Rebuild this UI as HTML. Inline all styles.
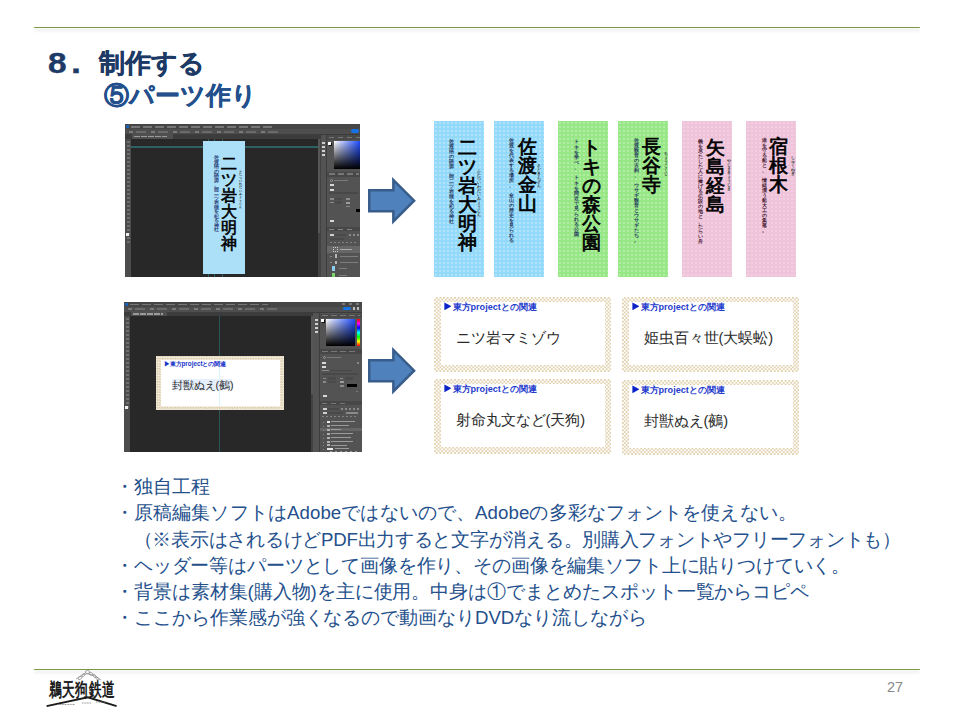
<!DOCTYPE html>
<html lang="ja"><head><meta charset="utf-8">
<style>
html,body{margin:0;padding:0;background:#fff;}
body{width:960px;height:720px;position:relative;overflow:hidden;font-family:"Liberation Sans",sans-serif;}
.abs{position:absolute;}
.hline{position:absolute;left:34px;width:885.5px;height:1.6px;border-radius:1px;background:#7a9944;box-shadow:0 2.5px 3px rgba(0,0,0,0.16);}
.title{position:absolute;color:#1f3b6b;font-weight:bold;font-size:26px;line-height:30px;white-space:nowrap;-webkit-text-stroke:0.35px currentColor;}
.bul{position:absolute;left:115px;top:474px;color:#24508c;font-size:18.67px;line-height:26.3px;white-space:pre;}
.pnum{position:absolute;left:887px;top:678.7px;color:#888;font-size:14.5px;}
/* photoshop */
.ps{position:absolute;background:#535353;overflow:hidden;}
.ps .menu{position:absolute;left:0;top:0;right:0;background:#3c3c3c;}
.ps .canvas{position:absolute;background:#282828;}
.arrow{position:absolute;}
/* vertical cards */
.vc{position:absolute;top:121px;width:50px;height:156px;}
.blue{background-color:#93dafa;background-image:radial-gradient(circle,rgba(255,255,255,.28) 0.8px,transparent 1.3px);background-size:4px 4px;}
.green{background-color:#97e787;background-image:radial-gradient(circle,rgba(255,255,255,.25) 0.8px,transparent 1.3px);background-size:4px 4px;}
.pink{background-color:#efc4da;background-image:radial-gradient(circle,rgba(255,255,255,.18) 0.8px,transparent 1.3px);background-size:4px 4px;}
.vt{position:absolute;width:1em;word-break:break-all;line-break:anywhere;white-space:break-spaces;text-align:center;}
.big{font-size:18.6px;line-height:19px;color:#000;-webkit-text-stroke:0.75px #000;}
.sm{font-size:5.2px;line-height:5px;color:#333;font-weight:bold;}
.ru{font-size:3.6px;line-height:4px;color:#333;font-weight:bold;}
/* touhou cards */
.tc{position:absolute;width:177px;height:75px;background:conic-gradient(#e2d2b0 25%,#fff 0 50%,#e2d2b0 0 75%,#fff 0) 0 0/3.66px 3.66px;}
.tc .in{position:absolute;left:7px;top:5px;right:6px;bottom:7px;background:#fff;}
.tc .hd{position:absolute;left:9px;top:5px;font-size:9.1px;line-height:10px;color:#1a35c8;font-weight:bold;white-space:nowrap;}
.tc .tri{position:absolute;left:10.4px;top:5.4px;width:7.1px;height:7.9px;background:#0a22c8;clip-path:polygon(0 0,100% 50%,0 100%);}
.tc .hd2{position:absolute;left:18.5px;top:5px;font-size:9.1px;line-height:10px;color:#1f3ccc;font-weight:bold;white-space:nowrap;}
.tc .nm{position:absolute;left:21.5px;top:31.5px;font-size:14.6px;line-height:18px;color:#2a2a2a;white-space:nowrap;}
</style></head>
<body>
<div class="hline" style="top:26.7px"></div>
<div class="title" style="left:48px;top:48px;font-size:29px;color:#1d3a66;transform:scaleX(1.15);transform-origin:0 0">8</div>
<div class="title" style="left:71px;top:48px;font-size:30px;color:#1d3a66;transform:scaleX(1.2);transform-origin:0 0">.</div>
<div class="title" style="left:99px;top:48px;font-size:26px;color:#1d3a66">制作する</div>
<div class="title" style="left:104px;top:81px;font-size:24.8px;color:#23508c">⑤パーツ作り</div>

<!-- PS screenshot 1 -->
<div class="ps" style="left:125px;top:124px;width:235px;height:153px">
  <div class="abs" style="left:0;top:0;width:235px;height:5px;background:#464646"></div>
  <div class="abs" style="left:1px;top:1px;width:2.5px;height:2.5px;background:#1d5fb0"></div>
  <div class="abs dl" style="left:6px;top:2px;width:142px;height:1.6px;background:repeating-linear-gradient(to right,#767676 0 9px,transparent 9px 12px)"></div>
  <div class="abs" style="left:0;top:5px;width:235px;height:5px;background:#4e4e4e"></div>
  <div class="abs" style="left:4px;top:6.5px;width:150px;height:2px;background:repeating-linear-gradient(to right,#7a7a7a 0 4px,transparent 4px 7px,#6a6a6a 7px 17px,transparent 17px 22px)"></div>
  <div class="abs" style="left:225.5px;top:5.4px;width:8.5px;height:3.4px;background:#1473e6;border-radius:2px"></div>
  <div class="abs" style="left:0;top:10px;width:235px;height:5px;background:#3c3c3c"></div>
  <div class="abs" style="left:6.5px;top:10px;width:41px;height:5px;background:#4f4f4f"></div>
  <div class="abs" style="left:9px;top:11.8px;width:33px;height:1.6px;background:repeating-linear-gradient(to right,#9a9a9a 0 6px,transparent 6px 7px)"></div>
  <div class="abs" style="left:0;top:15px;width:6px;height:138px;background:#4c4c4c"></div>
  <div class="abs" style="left:1.5px;top:17px;width:3px;height:104px;background:repeating-linear-gradient(to bottom,#6e6e6e 0 2px,transparent 2px 4px)"></div>
  <div class="abs" style="left:1px;top:109px;width:3px;height:3px;background:#eee"></div>
  <div class="canvas" style="left:6px;top:15px;width:186.6px;height:138px"></div>
  <div class="abs" style="left:6px;top:22.2px;width:186.6px;height:1.5px;background:#2e6163"></div>
  <div class="abs" style="left:82.5px;top:15px;width:1px;height:138px;background:#2e6163"></div>
  <div class="abs" style="left:88.6px;top:15px;width:1px;height:138px;background:#2e6163"></div>
  <div class="abs" style="left:97.4px;top:15px;width:1px;height:138px;background:#2e6163"></div>
  <div class="abs" style="left:78px;top:17px;width:42px;height:133px;background-color:#ace0f8"></div>
  <div class="vt" style="left:96px;top:32px;font-size:16px;line-height:16px;color:#000;-webkit-text-stroke:0.6px #000">二ツ岩大明神</div>
  <div class="vt" style="left:89px;top:32px;font-size:4.5px;line-height:4.5px;color:#1d3670;font-weight:bold">佐渡狢の語源、同二ツ岩狸を祀る神社</div>
  <div class="vt" style="left:114.3px;top:46px;font-size:3px;line-height:3.3px;color:#222;font-weight:bold">ふたついわだいみょうじん</div>
  <div class="abs" style="left:192.6px;top:15px;width:3px;height:138px;background:#424242"></div>
  <div class="abs" style="left:193px;top:15px;width:2px;height:94px;background:#575757"></div>
  <div class="abs" style="left:195.6px;top:11px;width:5.5px;height:142px;background:#535353"></div>
  <div class="abs" style="left:197px;top:18px;width:3px;height:14px;background:repeating-linear-gradient(to bottom,#cfcfcf 0 2px,transparent 2px 4px)"></div>
  <div class="abs" style="left:201px;top:11px;width:1px;height:142px;background:#3d3d3d"></div>
  <div class="abs" style="left:202px;top:11px;width:33px;height:142px;background:#535353"></div>
  <div class="abs" style="left:202px;top:11px;width:33px;height:5px;background:#494949"></div>
  <div class="abs" style="left:204px;top:12.5px;width:31px;height:1.5px;background:repeating-linear-gradient(to right,#777 0 5px,transparent 5px 9px)"></div>
  <div class="abs" style="left:203px;top:17.5px;width:3px;height:3px;background:#fff;box-shadow:1px 1px 0 #111"></div>
  <div class="abs" style="left:209px;top:17px;width:26px;height:28px;background:linear-gradient(to bottom,rgba(0,0,0,0),#000),linear-gradient(to right,#fff,#1f4cff)"></div>
  <div class="abs" style="left:202px;top:47.7px;width:33px;height:5px;background:#474747"></div>
  <div class="abs" style="left:204px;top:49.3px;width:30px;height:1.3px;background:repeating-linear-gradient(to right,#777 0 6px,transparent 6px 9px)"></div>
  <div class="abs" style="left:204.5px;top:55px;width:3px;height:3px;border-radius:50%;border:0.6px solid #999;box-sizing:border-box"></div>
  <div class="abs" style="left:209px;top:56px;width:14px;height:1.2px;background:#7a7a7a"></div>
  <div class="abs" style="left:205px;top:59.5px;width:4px;height:2px;background:#d8d8d8"></div>
  <div class="abs" style="left:205px;top:64.5px;width:4px;height:2px;background:#d8d8d8"></div>
  <div class="abs" style="left:204px;top:68px;width:29px;height:1.8px;background:#484848"></div>
  <div class="abs" style="left:205px;top:74px;width:4px;height:1.5px;background:#8a8a8a"></div>
  <div class="abs" style="left:210px;top:73.5px;width:7px;height:2.5px;background:#4a4a4a"></div>
  <div class="abs" style="left:221px;top:74px;width:4px;height:1.5px;background:#8a8a8a"></div>
  <div class="abs" style="left:205px;top:77.5px;width:4px;height:1.5px;background:#8a8a8a"></div>
  <div class="abs" style="left:210px;top:77px;width:7px;height:2.5px;background:#4a4a4a"></div>
  <div class="abs" style="left:221px;top:77.5px;width:4px;height:2px;background:#9a9a9a"></div>
  <div class="abs" style="left:221px;top:81.5px;width:4px;height:1.5px;background:#8a8a8a"></div>
  <div class="abs" style="left:230.5px;top:85px;width:4.5px;height:2.5px;background:#000"></div>
  <div class="abs" style="left:205px;top:95.8px;width:4px;height:2px;background:#d8d8d8"></div>
  <div class="abs" style="left:202px;top:103px;width:33px;height:4px;background:#474747"></div>
  <div class="abs" style="left:204px;top:104.5px;width:26px;height:1.2px;background:repeating-linear-gradient(to right,#858585 0 5px,transparent 5px 9px)"></div>
  <div class="abs" style="left:205px;top:110px;width:4px;height:1.5px;background:#cfcfcf"></div>
  <div class="abs" style="left:210px;top:109.5px;width:11px;height:2.5px;background:#4a4a4a"></div>
  <div class="abs" style="left:224px;top:110px;width:10px;height:1.5px;background:repeating-linear-gradient(to right,#8a8a8a 0 2px,transparent 2px 4px)"></div>
  <div class="abs" style="left:205px;top:113.5px;width:14px;height:2.5px;background:#4a4a4a"></div>
  <div class="abs" style="left:205px;top:117.5px;width:28px;height:1.3px;background:repeating-linear-gradient(to right,#828282 0 2px,transparent 2px 4px)"></div>
  <div class="abs" style="left:202px;top:122px;width:33px;height:6.8px;background:#676767"></div>
  <div class="abs" style="left:208px;top:123px;width:5px;height:5px;border:0.7px dotted #cfcfcf;box-sizing:border-box"></div>
  <div class="abs" style="left:215px;top:125px;width:12px;height:1.3px;background:#a8a8a8"></div>
  <div class="abs" style="left:205px;top:131.5px;width:1.5px;height:1.2px;background:#8a8a8a"></div>
  <div class="abs" style="left:209.5px;top:130px;width:2.5px;height:3.5px;background:#b5b5b5"></div>
  <div class="abs" style="left:215px;top:131.5px;width:18px;height:1.2px;background:#7d7d7d"></div>
  <div class="abs" style="left:205px;top:138px;width:1.5px;height:1.2px;background:#8a8a8a"></div>
  <div class="abs" style="left:209.5px;top:136.5px;width:2.5px;height:3.5px;background:#b5b5b5"></div>
  <div class="abs" style="left:215px;top:138px;width:18px;height:1.2px;background:#7d7d7d"></div>
  <div class="abs" style="left:207px;top:142px;width:3px;height:5px;background:#8ecdf0"></div>
  <div class="abs" style="left:214px;top:144px;width:8px;height:1.2px;background:#7d7d7d"></div>
  <div class="abs" style="left:207px;top:149px;width:3px;height:4px;background:#7bd46a"></div>
  <div class="abs" style="left:214px;top:151px;width:8px;height:1.2px;background:#7d7d7d"></div>
</div>
<svg class="arrow" style="left:366px;top:175px" width="52" height="52" viewBox="0 0 52 52">
  <path d="M3.25 15.25 H27.35 V4.9 L48.1 25.7 L27.35 46.4 V36.15 H3.25 Z" fill="#4f81bd" stroke="#385d8a" stroke-width="2.5"/>
</svg>

<!-- six vertical cards -->
<div class="vc blue" style="left:434px"></div>
<div class="vt big" style="left:457.5px;top:138.4px">二ツ岩大明神</div>
<div class="vt sm" style="left:449.0px;top:139.4px;color:#25365e">佐渡狢の語源、同二ツ岩狸を祀る神社</div>
<div class="vt ru" style="left:476.5px;top:169.3px">ふたついわだいみょうじん</div>
<div class="vc blue" style="left:494px"></div>
<div class="vt big" style="left:517.6px;top:136.8px">佐渡金山</div>
<div class="vt sm" style="left:509.1px;top:137.8px;color:#25365e">佐渡を代表する場所、　金山の歴史を見られる</div>
<div class="vt ru" style="left:536.5px;top:164.0px">さどきんざん</div>
<div class="vc green" style="left:558px"></div>
<div class="vt big" style="left:581.5px;top:138.4px">トキの森公園</div>
<div class="vt sm" style="left:573.5px;top:139.4px;color:#1f3a5c;line-height:5.15px">トキを学べ、　トキを間近で見られる公園</div>
<div class="vc green" style="left:618px"></div>
<div class="vt big" style="left:641.6px;top:137.2px">長谷寺</div>
<div class="vt sm" style="left:633.7px;top:138.2px;color:#1f3a5c">佐渡観音の古刹、　ウサギ観音とウサギたち。</div>
<div class="vt ru" style="left:663.5px;top:151.7px">ちょうこくじ</div>
<div class="vc pink" style="left:682px"></div>
<div class="vt big" style="left:705.6px;top:137.7px">矢島経島</div>
<div class="vt sm" style="left:698.0px;top:138.7px;color:#4a2035">義を尽たした人に捧げる伝説の地と、たらい舟</div>
<div class="vt ru" style="left:726.5px;top:158.5px">やじまきょうじま</div>
<div class="vc pink" style="left:746px"></div>
<div class="vt big" style="left:769.0px;top:137.3px">宿根木</div>
<div class="vt sm" style="left:761.7px;top:138.3px;color:#4a2035">港を守る船と、　情緒漂う船大工の集落。</div>
<div class="vt ru" style="left:790.5px;top:156.3px">しゅくねぎ</div>

<!-- PS screenshot 2 -->
<div class="ps" style="left:124px;top:302px;width:238px;height:150px">
  <div class="abs" style="left:0;top:0;width:238px;height:4.5px;background:#464646"></div>
  <div class="abs" style="left:1px;top:1px;width:2.5px;height:2.5px;background:#1d5fb0"></div>
  <div class="abs" style="left:6px;top:1.6px;width:138px;height:1.6px;background:repeating-linear-gradient(to right,#767676 0 9px,transparent 9px 12px)"></div>
  <div class="abs" style="left:218px;top:1px;width:18px;height:2px;background:repeating-linear-gradient(to right,#777 0 3px,transparent 3px 7px)"></div>
  <div class="abs" style="left:0;top:4.5px;width:238px;height:5px;background:#4e4e4e"></div>
  <div class="abs" style="left:4px;top:6px;width:150px;height:2px;background:repeating-linear-gradient(to right,#7a7a7a 0 4px,transparent 4px 7px,#6a6a6a 7px 17px,transparent 17px 22px)"></div>
  <div class="abs" style="left:218.8px;top:4.9px;width:7.8px;height:3.5px;background:#1473e6;border-radius:2px"></div>
  <div class="abs" style="left:229px;top:5px;width:7px;height:3px;background:repeating-linear-gradient(to right,#bbb 0 2px,transparent 2px 4px)"></div>
  <div class="abs" style="left:0;top:9.5px;width:238px;height:4.5px;background:#3c3c3c"></div>
  <div class="abs" style="left:6.6px;top:9.5px;width:36.5px;height:4.5px;background:#4f4f4f"></div>
  <div class="abs" style="left:9px;top:11px;width:30px;height:1.5px;background:repeating-linear-gradient(to right,#9a9a9a 0 6px,transparent 6px 7px)"></div>
  <div class="abs" style="left:0;top:14px;width:6px;height:136px;background:#4c4c4c"></div>
  <div class="abs" style="left:1.5px;top:16px;width:3px;height:92px;background:repeating-linear-gradient(to bottom,#6e6e6e 0 2px,transparent 2px 4px)"></div>
  <div class="abs" style="left:1px;top:104px;width:3px;height:3px;background:#eee"></div>
  <div class="canvas" style="left:6px;top:14px;width:180.5px;height:136px"></div>
  <div class="abs" style="left:95.2px;top:14px;width:1px;height:136px;background:#2b5557"></div>
  <div class="tc" style="left:32px;top:54px;width:128px;height:54px;background:conic-gradient(#dccaa6 25%,#f4efe4 0 50%,#dccaa6 0 75%,#f4efe4 0) 0 0/2.6px 2.6px"><div class="in" style="left:4.5px;top:4px;right:4.2px;bottom:4.4px"></div>
    <div class="abs" style="left:63.2px;top:4px;width:1px;height:46px;background:#d8f4f4"></div>
    <div class="hd" style="left:7.5px;top:4.4px;font-size:6.3px;line-height:7px">▶東方projectとの関連</div>
    <div class="abs" style="left:16px;top:23px;width:60px;height:11px;background:#e6effc"></div>
    <div class="nm" style="left:15.5px;top:22.5px;font-size:10.7px;line-height:12px">封獣ぬえ(鵺)</div>
  </div>
  <div class="abs" style="left:186.5px;top:14px;width:2.6px;height:136px;background:#424242"></div>
  <div class="abs" style="left:186.9px;top:14px;width:1.8px;height:78px;background:#575757"></div>
  <div class="abs" style="left:189.1px;top:11px;width:6px;height:139px;background:#535353"></div>
  <div class="abs" style="left:190.6px;top:17px;width:3px;height:14px;background:repeating-linear-gradient(to bottom,#cfcfcf 0 2px,transparent 2px 4px)"></div>
  <div class="abs" style="left:195.1px;top:11px;width:1px;height:139px;background:#3d3d3d"></div>
  <div class="abs" style="left:196px;top:11px;width:42px;height:139px;background:#535353"></div>
  <div class="abs" style="left:196px;top:11.5px;width:42px;height:4px;background:#494949"></div>
  <div class="abs" style="left:198px;top:12.6px;width:38px;height:1.5px;background:repeating-linear-gradient(to right,#777 0 6px,transparent 6px 9px)"></div>
  <div class="abs" style="left:197px;top:17px;width:3px;height:3px;background:#fff;box-shadow:1px 1px 0 #111"></div>
  <div class="abs" style="left:202px;top:16.6px;width:29px;height:27.2px;background:linear-gradient(to bottom,rgba(0,0,0,0),#000),linear-gradient(to right,#fff,#1f4cff)"></div>
  <div class="abs" style="left:232.7px;top:16.6px;width:3.6px;height:27.2px;background:linear-gradient(to bottom,#f00,#f0f 17%,#00f 33%,#0ff 50%,#0f0 67%,#ff0 83%,#f00)"></div>
  <div class="abs" style="left:196px;top:47px;width:42px;height:4.6px;background:#474747"></div>
  <div class="abs" style="left:198px;top:48.5px;width:36px;height:1.5px;background:repeating-linear-gradient(to right,#777 0 6px,transparent 6px 9px)"></div>
  <div class="abs" style="left:198.5px;top:54px;width:3px;height:3px;border-radius:50%;border:0.6px solid #999;box-sizing:border-box"></div>
  <div class="abs" style="left:203px;top:55px;width:14px;height:1.2px;background:#7a7a7a"></div>
  <div class="abs" style="left:198px;top:59.5px;width:4px;height:2px;background:#d8d8d8"></div>
  <div class="abs" style="left:233px;top:59.5px;width:2px;height:2px;background:#8a8a8a"></div>
  <div class="abs" style="left:198px;top:64px;width:4px;height:2px;background:#d8d8d8"></div>
  <div class="abs" style="left:198px;top:67.5px;width:7px;height:1.3px;background:#8a8a8a"></div>
  <div class="abs" style="left:206px;top:67.5px;width:22px;height:1.5px;background:#474747"></div>
  <div class="abs" style="left:198px;top:71px;width:36px;height:2px;background:#484848"></div>
  <div class="abs" style="left:199px;top:75.5px;width:3px;height:1.5px;background:#8a8a8a"></div>
  <div class="abs" style="left:204px;top:75px;width:8px;height:2.5px;background:#4a4a4a"></div>
  <div class="abs" style="left:216px;top:75.5px;width:3px;height:1.5px;background:#8a8a8a"></div>
  <div class="abs" style="left:221px;top:75px;width:8px;height:2.5px;background:#4a4a4a"></div>
  <div class="abs" style="left:199px;top:79px;width:3px;height:1.5px;background:#8a8a8a"></div>
  <div class="abs" style="left:204px;top:78.5px;width:8px;height:2.5px;background:#4a4a4a"></div>
  <div class="abs" style="left:216px;top:79px;width:4px;height:2px;background:#9a9a9a"></div>
  <div class="abs" style="left:216px;top:83px;width:4px;height:1.5px;background:#8a8a8a"></div>
  <div class="abs" style="left:232px;top:88.5px;width:2px;height:1.5px;background:#777"></div>
  <div class="abs" style="left:223.2px;top:82.4px;width:9.5px;height:2.6px;background:#000"></div>
  <div class="abs" style="left:198.5px;top:93px;width:4px;height:2px;background:#d8d8d8"></div>
  <div class="abs" style="left:196px;top:99px;width:42px;height:4px;background:#474747"></div>
  <div class="abs" style="left:198px;top:100.5px;width:26px;height:1.2px;background:repeating-linear-gradient(to right,#777 0 5px,transparent 5px 9px)"></div>
  <div class="abs" style="left:198.5px;top:106px;width:4px;height:1.5px;background:#cfcfcf"></div>
  <div class="abs" style="left:203px;top:105.5px;width:12px;height:2.5px;background:#4a4a4a"></div>
  <div class="abs" style="left:217px;top:106px;width:19px;height:1.5px;background:repeating-linear-gradient(to right,#8a8a8a 0 2px,transparent 2px 4px)"></div>
  <div class="abs" style="left:198.5px;top:110px;width:4px;height:1.5px;background:#cfcfcf"></div>
  <div class="abs" style="left:203px;top:109.5px;width:16px;height:2.5px;background:#4a4a4a"></div>
  <div class="abs" style="left:222px;top:110px;width:12px;height:1.5px;background:#8a8a8a"></div>
  <div class="abs" style="left:198px;top:113.5px;width:36px;height:1.3px;background:repeating-linear-gradient(to right,#828282 0 2px,transparent 2px 4px)"></div>
  <div class="abs" style="left:196px;top:125.8px;width:42px;height:2.8px;background:#666"></div>
  <div class="abs" style="left:198.5px;top:119.5px;width:1.8px;height:1px;background:#8a8a8a"></div>
  <div class="abs" style="left:203px;top:118.5px;width:3px;height:2.2px;background:#e8e8e8"></div>
  <div class="abs" style="left:207px;top:119px;width:24px;height:1.2px;background:#9a9a9a"></div>
  <div class="abs" style="left:198.5px;top:123.5px;width:1.8px;height:1px;background:#8a8a8a"></div>
  <div class="abs" style="left:203px;top:122.5px;width:3px;height:2.2px;background:#b0b0b0"></div>
  <div class="abs" style="left:207px;top:123px;width:18px;height:1.2px;background:#9a9a9a"></div>
  <div class="abs" style="left:198.5px;top:127.5px;width:1.8px;height:1px;background:#8a8a8a"></div>
  <div class="abs" style="left:203px;top:126.5px;width:3px;height:2.2px;background:#b0b0b0"></div>
  <div class="abs" style="left:207px;top:127px;width:10px;height:1.2px;background:#9a9a9a"></div>
  <div class="abs" style="left:198.5px;top:131.5px;width:1.8px;height:1px;background:#8a8a8a"></div>
  <div class="abs" style="left:203px;top:130.5px;width:3px;height:2.2px;background:#b0b0b0"></div>
  <div class="abs" style="left:207px;top:131px;width:22px;height:1.2px;background:#9a9a9a"></div>
  <div class="abs" style="left:198.5px;top:135.5px;width:1.8px;height:1px;background:#8a8a8a"></div>
  <div class="abs" style="left:203px;top:134.5px;width:3px;height:2.2px;background:#b0b0b0"></div>
  <div class="abs" style="left:207px;top:135px;width:20px;height:1.2px;background:#9a9a9a"></div>
  <div class="abs" style="left:198.5px;top:139.5px;width:1.8px;height:1px;background:#8a8a8a"></div>
  <div class="abs" style="left:203px;top:138.5px;width:3px;height:2.2px;background:#b0b0b0"></div>
  <div class="abs" style="left:207px;top:139px;width:22px;height:1.2px;background:#9a9a9a"></div>
  <div class="abs" style="left:198.5px;top:143.0px;width:1.8px;height:1px;background:#8a8a8a"></div>
  <div class="abs" style="left:203px;top:142.0px;width:3px;height:2.2px;background:#b0b0b0"></div>
  <div class="abs" style="left:207px;top:142.5px;width:16px;height:1.2px;background:#9a9a9a"></div>
  <div class="abs" style="left:198.5px;top:146.5px;width:1.8px;height:1px;background:#8a8a8a"></div>
  <div class="abs" style="left:203px;top:145.5px;width:6px;height:2.2px;background:#e8e8e8"></div>
  <div class="abs" style="left:211px;top:146px;width:14px;height:1.2px;background:#9a9a9a"></div>
  <div class="abs" style="left:206px;top:148.6px;width:28px;height:1.4px;background:repeating-linear-gradient(to right,#999 0 2px,transparent 2px 5px)"></div>
</div>
<svg class="arrow" style="left:366px;top:345.3px" width="52" height="52" viewBox="0 0 52 52">
  <path d="M3.25 15.25 H27.35 V4.9 L48.1 25.7 L27.35 46.4 V36.15 H3.25 Z" fill="#4f81bd" stroke="#385d8a" stroke-width="2.5"/>
</svg>

<!-- touhou cards -->
<div class="tc" style="left:434px;top:297px"><div class="in"></div><div class="tri"></div><div class="hd2">東方projectとの関連</div><div class="nm">ニツ岩マミゾウ</div></div>
<div class="tc" style="left:622px;top:297px"><div class="in"></div><div class="tri"></div><div class="hd2">東方projectとの関連</div><div class="nm">姫虫百々世(大蜈蚣)</div></div>
<div class="tc" style="left:434px;top:379px"><div class="in"></div><div class="tri"></div><div class="hd2">東方projectとの関連</div><div class="nm">射命丸文など(天狗)</div></div>
<div class="tc" style="left:622px;top:380px"><div class="in"></div><div class="tri"></div><div class="hd2">東方projectとの関連</div><div class="nm">封獣ぬえ(鵺)</div></div>

<div class="bul"><div style="letter-spacing:0px">・独自工程</div><div style="letter-spacing:0.1px">・原稿編集ソフトはAdobeではないので、Adobeの多彩なフォントを使えない。</div><div style="letter-spacing:-0.27px">　（※表示はされるけどPDF出力すると文字が消える。別購入フォントやフリーフォントも）</div><div style="letter-spacing:-0.15px">・ヘッダー等はパーツとして画像を作り、その画像を編集ソフト上に貼りつけていく。</div><div style="letter-spacing:-0.06px">・背景は素材集(購入物)を主に使用。中身は①でまとめたスポット一覧からコピペ</div><div style="letter-spacing:-0.05px">・ここから作業感が強くなるので動画なりDVDなり流しながら</div></div>

<div class="hline" style="top:668.6px"></div>
<!-- logo -->
<div class="abs" style="left:48.5px;top:680.5px;font-size:12.4px;line-height:13px;color:#111;-webkit-text-stroke:0.45px #111;white-space:nowrap;letter-spacing:1.4px;transform:scaleY(1.5);transform-origin:0 0">鵜天狗鉄道</div>
<svg class="abs" style="left:40px;top:665px" width="85" height="47" viewBox="0 0 85 47">
  <path d="M6.6 41.2 L47.8 32.3 L76.6 41.2" fill="none" stroke="#1a1a1a" stroke-width="1.8"/>
  <g fill="none" stroke="#8a8a8a" stroke-width="0.7">
    <ellipse cx="40" cy="13" rx="2.2" ry="1.2" transform="rotate(-30 40 13)"/>
    <ellipse cx="43.5" cy="10" rx="2" ry="1.1" transform="rotate(-50 43.5 10)"/>
    <ellipse cx="47.5" cy="7" rx="2.2" ry="1.6"/>
    <ellipse cx="51" cy="9" rx="2" ry="1.3" transform="rotate(20 51 9)"/>
    <ellipse cx="54.5" cy="11" rx="2" ry="1.1" transform="rotate(40 54.5 11)"/>
    <ellipse cx="57.5" cy="13.5" rx="2" ry="1" transform="rotate(30 57.5 13.5)"/>
    <path d="M36 14 Q47 3 61 15"/>
  </g>
  <path d="M17 39.5 H35 M42 38 H51 M56 37 H67" stroke="#777" stroke-width="0.8" stroke-dasharray="1 0.6"/>
</svg>
<div class="pnum">27</div>
</body></html>
